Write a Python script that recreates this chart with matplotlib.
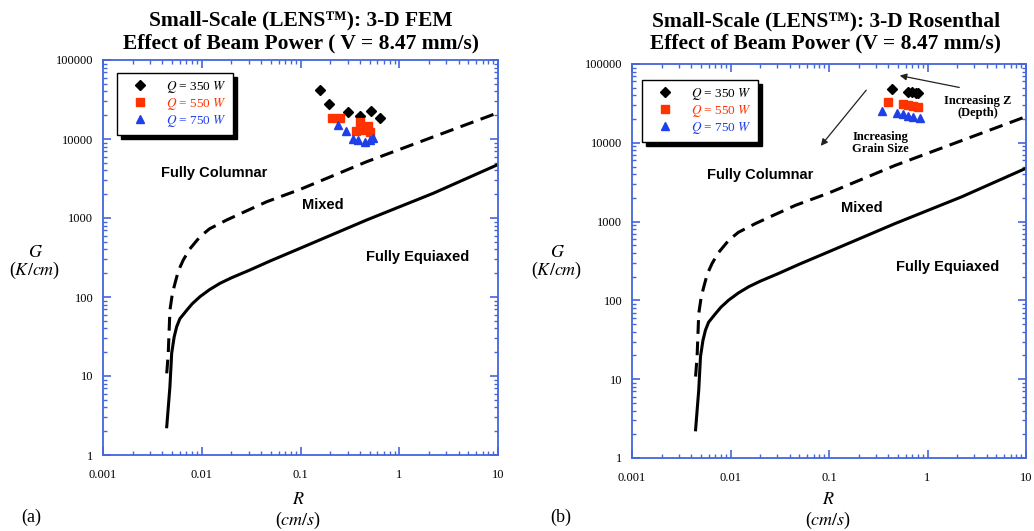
import matplotlib
matplotlib.use("Agg")
import matplotlib.pyplot as plt
from matplotlib.lines import Line2D
from matplotlib.patches import FancyArrowPatch

W, H = 1034, 531

# Transition curves (same in both panels)
solid_R = [0.00442, 0.00476, 0.00496, 0.00525, 0.00557, 0.006, 0.00705, 0.008, 0.0096, 0.012,
           0.0153, 0.02, 0.0308, 0.05, 0.0989, 0.468, 2.21, 10.0]
solid_G = [2.28, 7.3, 19.4, 31, 42, 53, 68, 82, 101, 124,
           149, 175, 220, 288, 413, 944, 2056, 4750]
dash_R = [0.00442, 0.00458, 0.00476, 0.00505, 0.00536, 0.0058, 0.0065, 0.0075, 0.0096, 0.012,
          0.0179, 0.027, 0.0455, 0.07, 0.099, 0.468, 10.0]
dash_G = [10.8, 19.4, 68, 112, 149, 215, 294, 400, 580, 730,
          944, 1195, 1607, 1960, 2300, 5160, 21500]

# (a) 3-D FEM
fem_R_350 = [0.157, 0.195, 0.303, 0.40, 0.52, 0.64]
fem_G_350 = [41700, 27700, 22000, 19500, 22600, 18400]
fem_R_550 = [0.208, 0.251, 0.365, 0.40, 0.41, 0.44, 0.483, 0.506]
fem_G_550 = [18400, 18400, 12600, 16600, 13800, 13000, 14600, 12300]
fem_R_750 = [0.24, 0.289, 0.34, 0.382, 0.45, 0.506, 0.54]
fem_G_750 = [15000, 12600, 10000, 9700, 9200, 9700, 10300]

# (b) 3-D Rosenthal
ros_R_350 = [0.434, 0.634, 0.70, 0.76, 0.80]
ros_G_350 = [48200, 44100, 43500, 43000, 42900]
ros_R_550 = [0.397, 0.563, 0.634, 0.713, 0.80]
ros_G_550 = [33000, 31000, 30200, 29300, 28400]
ros_R_750 = [0.345, 0.49, 0.563, 0.634, 0.713, 0.84]
ros_G_750 = [25300, 23900, 23200, 21900, 21200, 20600]

power_labels = [r'$Q$ = 350 $W$', r'$Q$ = 550 $W$', r'$Q$ = 750 $W$']
colors = ['black', '#ff3300', '#1f3fe8']
markers = ['D', 's', '^']
frame_col = '#4466dd'

plt.rcParams['font.family'] = ['Liberation Serif', 'DejaVu Serif']
plt.rcParams['mathtext.fontset'] = 'stix'


def fx(x):
    return x / W


def fy(y):
    return 1 - y / H


fig = plt.figure(figsize=(W / 100, H / 100), dpi=100)
ax_a = fig.add_axes([fx(103), fy(455), (498 - 103) / W, (455 - 60) / H])
ax_b = fig.add_axes([fx(632), fy(458), (1026 - 632) / W, (458 - 64) / H])

panels = [
    (ax_a, [(fem_R_350, fem_G_350), (fem_R_550, fem_G_550), (fem_R_750, fem_G_750)], (0.035, 0.967)),
    (ax_b, [(ros_R_350, ros_G_350), (ros_R_550, ros_G_550), (ros_R_750, ros_G_750)], (0.025, 0.96)),
]

for ax, series, leg_pos in panels:
    ax.plot(solid_R, solid_G, color='black', lw=2.2, solid_joinstyle='round')
    ax.plot(dash_R, dash_G, color='black', lw=2.2, dashes=(4.5, 2.5))
    for (r, g), c, m in zip(series, colors, markers):
        ax.plot(r, g, ls='none', marker=m, color=c, ms=6 if m != 'D' else 5.5)
    ax.set_xscale('log')
    ax.set_yscale('log')
    ax.set_xlim(0.001, 10)
    ax.set_ylim(1, 100000)
    ax.set_xticks([0.001, 0.01, 0.1, 1, 10])
    ax.set_xticklabels(['0.001', '0.01', '0.1', '1', '10'])
    ax.set_yticks([1, 10, 100, 1000, 10000, 100000])
    ax.set_yticklabels(['1', '10', '100', '1000', '10000', '100000'])
    for s in ax.spines.values():
        s.set_color(frame_col)
        s.set_linewidth(1.3)
    ax.tick_params(which='both', direction='in', top=True, right=True, colors=frame_col,
                   labelcolor='black', labelsize=9)
    ax.tick_params(which='major', length=6, width=1.2)
    ax.tick_params(which='minor', length=3, width=1.0)
    ax.tick_params(axis='x', pad=10)
    ax.tick_params(axis='y', pad=7)

    handles = [Line2D([], [], ls='none', marker=m, color=c, ms=6 if m != 'D' else 5.5)
               for c, m in zip(colors, markers)]
    leg = ax.legend(handles, power_labels, loc='upper left', bbox_to_anchor=leg_pos,
                    borderaxespad=0, fancybox=False, fontsize=9.5, handlelength=2.6,
                    handletextpad=0.7, labelspacing=0.08, borderpad=0.45,
                    edgecolor='black', framealpha=1,
                    shadow={'color': 'black', 'alpha': 1, 'ox': 3, 'oy': -3})
    leg.get_frame().set_linewidth(1.0)
    for t, c in zip(leg.get_texts(), colors):
        t.set_color(c)

# titles
title_kw = dict(ha='center', va='center', fontsize=15.5, fontweight='bold')
fig.text(fx(301), fy(20), 'Small-Scale (LENS\u2122): 3-D FEM', **title_kw)
fig.text(fx(301), fy(43), 'Effect of Beam Power ( V = 8.47 mm/s)', **title_kw)
fig.text(fx(826), fy(21), 'Small-Scale (LENS\u2122): 3-D Rosenthal', **title_kw)
fig.text(fx(826), fy(43), 'Effect of Beam Power (V = 8.47 mm/s)', **title_kw)

# region labels
sans = ['Liberation Sans', 'DejaVu Sans']
for x, y, s in [(214, 173, 'Fully Columnar'), (323, 205, 'Mixed'), (418, 257, 'Fully Equiaxed'),
                (760, 175, 'Fully Columnar'), (862, 208, 'Mixed'), (948, 267, 'Fully Equiaxed')]:
    fig.text(fx(x), fy(y), s, ha='center', va='center', fontsize=10.5, fontweight='bold', family=sans)

# annotations in (b)
fig.text(fx(880), fy(143), 'Increasing\nGrain Size', ha='center', va='center', fontsize=9,
         fontweight='bold', linespacing=1.0)
fig.text(fx(978), fy(107), 'Increasing Z\n(Depth)', ha='center', va='center', fontsize=9,
         fontweight='bold', linespacing=1.0)
fig.add_artist(FancyArrowPatch((fx(962), fy(88)), (fx(897), fy(75)), transform=fig.transFigure,
                               arrowstyle='-|>', mutation_scale=10, lw=0.9, color='#222222'))
fig.add_artist(FancyArrowPatch((fx(868), fy(88)), (fx(819), fy(148)), transform=fig.transFigure,
                               arrowstyle='-|>', mutation_scale=10, lw=0.9, color='#222222'))

# axis labels
for gx, rx, px, plab in [(35, 298, 31, '(a)'), (557, 828, 561, '(b)')]:
    fig.text(fx(gx), fy(252), '$G$', ha='center', va='center', fontsize=13)
    fig.text(fx(gx), fy(270), '($K/cm$)', ha='center', va='center', fontsize=13)
    fig.text(fx(rx), fy(500), '$R$', ha='center', va='center', fontsize=13)
    fig.text(fx(rx), fy(520), '($cm/s$)', ha='center', va='center', fontsize=13)
    fig.text(fx(px), fy(517), plab, ha='center', va='center', fontsize=13)

fig.savefig('out.png', dpi=100)
